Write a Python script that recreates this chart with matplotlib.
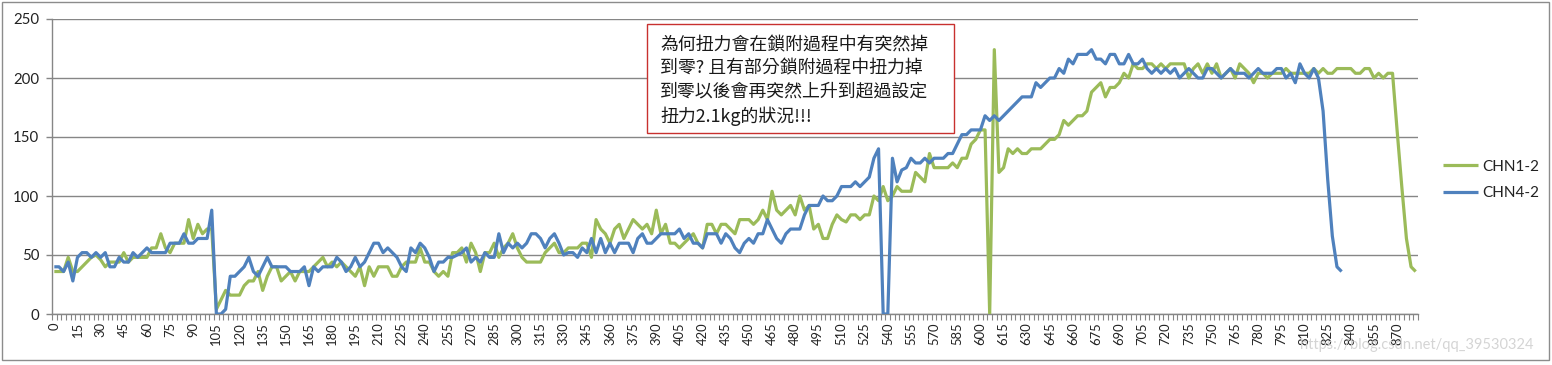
import matplotlib
matplotlib.use('Agg')
import matplotlib.pyplot as plt
from matplotlib.patches import Rectangle
import numpy as np

# ---- data (torque readings, one sample every 3 units) ----
chn1_2 = [
    36, 36, 36, 48, 36, 36, 40, 44, 48, 50,
    46, 40, 44, 44, 44, 52, 44, 48, 48, 48,
    48, 56, 56, 68, 56, 52, 60, 60, 60, 80,
    64, 76, 68, 72, 72, 4, 12, 20, 16, 16,
    16, 24, 28, 28, 36, 20, 32, 40, 40, 28,
    32, 36, 28, 36, 36, 36, 40, 44, 48, 40,
    44, 40, 44, 40, 36, 32, 40, 24, 40, 32,
    40, 40, 40, 32, 32, 40, 44, 44, 44, 56,
    44, 44, 36, 32, 36, 32, 52, 52, 56, 44,
    60, 52, 36, 52, 52, 60, 48, 56, 60, 68,
    56, 48, 44, 44, 44, 44, 52, 56, 60, 52,
    52, 56, 56, 56, 60, 60, 48, 80, 72, 68,
    60, 72, 76, 64, 72, 80, 76, 72, 76, 68,
    88, 68, 76, 60, 60, 56, 60, 64, 68, 60,
    56, 76, 76, 68, 76, 76, 72, 68, 80, 80,
    80, 76, 80, 88, 80, 104, 88, 84, 88, 92,
    84, 100, 88, 92, 72, 76, 64, 64, 76, 84,
    80, 78, 84, 84, 80, 84, 84, 100, 96, 108,
    96, 100, 108, 104, 104, 104, 120, 116, 112, 136,
    124, 124, 124, 124, 128, 124, 132, 132, 144, 148,
    156, 156, 0, 224, 120, 124, 140, 136, 140, 136,
    136, 140, 140, 140, 144, 148, 148, 152, 164, 160,
    164, 168, 168, 172, 188, 192, 196, 184, 192, 192,
    196, 204, 200, 212, 208, 208, 212, 212, 208, 212,
    208, 212, 212, 212, 212, 200, 208, 212, 204, 212,
    204, 212, 200, 204, 208, 200, 212, 208, 204, 196,
    204, 204, 200, 204, 204, 204, 208, 204, 204, 204,
    204, 204, 208, 204, 208, 204, 204, 208, 208, 208,
    208, 204, 204, 208, 208, 200, 204, 200, 204, 204,
    155, 108, 64, 40, 36,
]

chn4_2 = [
    40, 40, 36, 44, 28, 48, 52, 52, 48, 52,
    48, 52, 40, 40, 48, 44, 44, 52, 48, 52,
    56, 52, 52, 52, 52, 60, 60, 60, 68, 60,
    60, 64, 64, 64, 88, 0, 0, 4, 32, 32,
    36, 40, 48, 36, 32, 40, 48, 40, 40, 40,
    40, 36, 36, 36, 40, 24, 40, 36, 40, 40,
    40, 48, 44, 36, 40, 48, 40, 44, 52, 60,
    60, 52, 56, 52, 48, 40, 36, 56, 52, 60,
    56, 48, 36, 44, 44, 48, 48, 50, 52, 56,
    44, 48, 44, 52, 48, 48, 68, 52, 60, 56,
    60, 56, 60, 68, 68, 64, 56, 64, 68, 60,
    50, 52, 52, 48, 56, 52, 64, 52, 64, 52,
    60, 52, 60, 60, 60, 52, 64, 68, 60, 60,
    64, 68, 68, 68, 68, 72, 64, 68, 60, 60,
    56, 68, 68, 68, 60, 68, 64, 56, 52, 60,
    64, 60, 68, 68, 80, 72, 64, 60, 68, 72,
    72, 72, 84, 92, 92, 92, 100, 96, 96, 100,
    108, 108, 108, 112, 108, 112, 116, 132, 140, 0,
    0, 132, 112, 122, 124, 132, 128, 128, 132, 128,
    132, 132, 132, 136, 136, 144, 152, 152, 156, 156,
    156, 168, 164, 168, 164, 168, 172, 176, 180, 184,
    184, 184, 196, 192, 196, 200, 200, 208, 204, 216,
    212, 220, 220, 220, 224, 216, 216, 212, 220, 220,
    212, 212, 220, 212, 212, 216, 208, 204, 208, 204,
    208, 204, 208, 200, 204, 208, 204, 200, 200, 208,
    208, 204, 200, 204, 208, 204, 204, 204, 200, 204,
    208, 204, 204, 204, 208, 208, 200, 204, 196, 212,
    204, 200, 208, 200, 172, 114, 66, 40, 36,
]

series_names = ['CHN1-2', 'CHN4-2']
sample_step = 3
label_every = 5
y_ticks = [0, 50, 100, 150, 200, 250]
note_lines = [
    '為何扭力會在鎖附過程中有突然掉',
    '到零? 且有部分鎖附過程中扭力掉',
    '到零以後會再突然上升到超過設定',
    '扭力2.1kg的狀況!!!',
]
watermark = 'https://blog.csdn.net/qq_39530324'

# ---- figure ----
W, H = 1552, 365
fig = plt.figure(figsize=(W / 100, H / 100), dpi=100)
fig.patch.set_facecolor('white')

def fx(px):
    return px / W

def fy(py):
    return 1 - py / H

ax = fig.add_axes([fx(52), fy(314), fx(1418) - fx(52), fy(19) - fy(314)])

n_cat = len(chn1_2)
cat_labels = [str(i * sample_step) for i in range(n_cat)]

green = '#9BBB59'
blue = '#4F81BD'
grid_c = '#868686'

ax.plot(np.arange(len(chn1_2)), chn1_2, color=green, lw=2.3,
        solid_joinstyle='round', solid_capstyle='butt', label=series_names[0], zorder=3)
ax.plot(np.arange(len(chn4_2)), chn4_2, color=blue, lw=2.3,
        solid_joinstyle='round', solid_capstyle='butt', label=series_names[1], zorder=4)

ax.set_xlim(-0.5, n_cat - 0.5)
ax.set_ylim(y_ticks[0], y_ticks[-1])

# y axis
ax.set_yticks(y_ticks)
ax.set_yticklabels([str(v) for v in y_ticks], fontsize=10.8, family='Lato', color='#222222')
ax.tick_params(axis='y', length=4, width=1, color=grid_c, pad=5)
ax.yaxis.grid(True, color=grid_c, lw=1)
ax.set_axisbelow(True)

# x axis: labels every 5 categories, small tick at each category boundary
major_pos = list(range(0, n_cat, label_every))
ax.set_xticks(major_pos)
ax.set_xticklabels([cat_labels[i] for i in major_pos], rotation=90,
                   fontsize=9.4, family='Lato', color='#222222')
ax.set_xticks(np.arange(-0.5, n_cat, 1.0), minor=True)
ax.tick_params(axis='x', which='major', length=0, pad=6)
ax.tick_params(axis='x', which='minor', length=4, width=0.8, color=grid_c)

for s in ['top', 'right']:
    ax.spines[s].set_visible(False)
for s in ['left', 'bottom']:
    ax.spines[s].set_color(grid_c)
    ax.spines[s].set_linewidth(1)

# legend
leg = ax.legend(loc='center left', bbox_to_anchor=(fx(1443), fy(180)),
                bbox_transform=fig.transFigure, frameon=False,
                prop={'family': 'Lato', 'size': 11}, handlelength=2.3,
                handletextpad=0.25, labelspacing=0.85, borderpad=0, borderaxespad=0)
for t in leg.get_texts():
    t.set_color('#222222')

# annotation box
fig.patches.append(Rectangle((fx(647), fy(133)), fx(954) - fx(647), fy(24) - fy(133),
                             transform=fig.transFigure, fill=True, facecolor='white',
                             edgecolor='#C8312F', lw=1, zorder=5))
fig.text(fx(660), fy(36), '\n'.join(note_lines), va='top', ha='left',
         fontsize=12.9, family=['Noto Sans CJK TC', 'DejaVu Sans'],
         color='#1a1a1a', linespacing=1.37, zorder=6)

# chart border
fig.patches.append(Rectangle((fx(2), fy(360)), fx(1549) - fx(2), fy(2) - fy(360),
                             transform=fig.transFigure, fill=False,
                             edgecolor='#8c8c8c', lw=1, zorder=1))

# watermark (semi-transparent, over the axis labels as in the reference)
fig.text(fx(1300), fy(345), watermark, va='center', ha='left', fontsize=10.5,
         family='Lato', color='#d0d0d0', alpha=0.9, zorder=7)

fig.savefig('out.png', dpi=100, facecolor='white')
